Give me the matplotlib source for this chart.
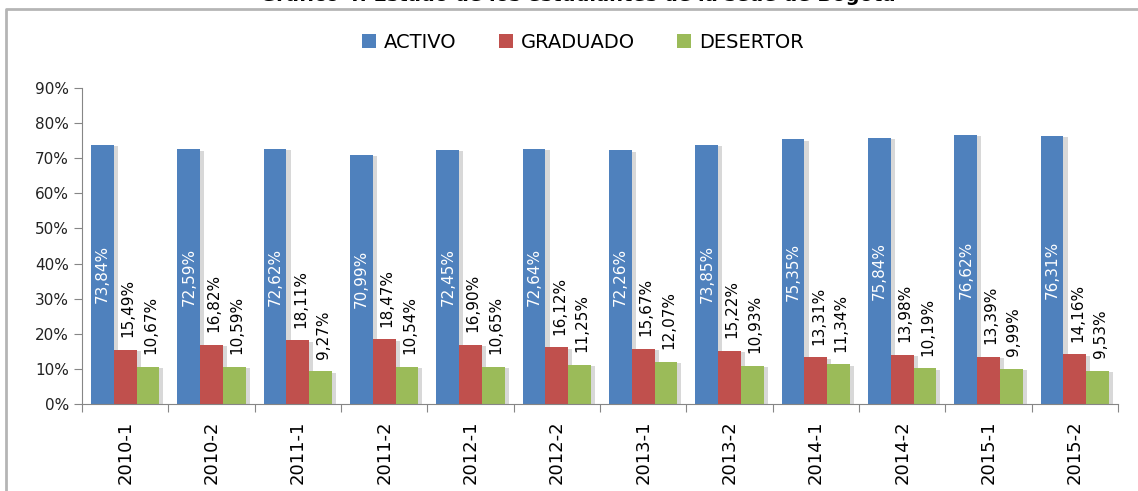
import matplotlib

matplotlib.use("Agg")
import matplotlib.pyplot as plt
import matplotlib.patheffects as pe
import numpy as np
from matplotlib.lines import Line2D
from matplotlib.patches import Patch

periods = ["2010-1", "2010-2", "2011-1", "2011-2", "2012-1", "2012-2",
           "2013-1", "2013-2", "2014-1", "2014-2", "2015-1", "2015-2"]
activo = [73.84, 72.59, 72.62, 70.99, 72.45, 72.64, 72.26, 73.85, 75.35, 75.84, 76.62, 76.31]
graduado = [15.49, 16.82, 18.11, 18.47, 16.90, 16.12, 15.67, 15.22, 13.31, 13.98, 13.39, 14.16]
desertor = [10.67, 10.59, 9.27, 10.54, 10.65, 11.25, 12.07, 10.93, 11.34, 10.19, 9.99, 9.53]
series_names = ["ACTIVO", "GRADUADO", "DESERTOR"]
colors = ["#4F81BD", "#C0504D", "#9BBB59"]


def fmt(v):
    return f"{v:.2f}".replace(".", ",") + "%"


fig = plt.figure(figsize=(11.38, 4.91), dpi=100)
ax = fig.add_axes([82 / 1138, 1 - 404 / 491, (1118 - 82) / 1138, (404 - 88) / 491])

x = np.arange(len(periods))
w = 0.263
shadow = [pe.SimplePatchShadow(offset=(3, -1), shadow_rgbFace="#808080", alpha=0.3), pe.Normal()]
for i, (vals, col) in enumerate(zip([activo, graduado, desertor], colors)):
    bars = ax.bar(x + (i - 1) * w, vals, w, color=col, zorder=2)
    for b in bars:
        b.set_path_effects(shadow)
    for xi, v in zip(x, vals):
        xc = xi + (i - 1) * w
        if i == 0:
            ax.text(xc, v / 2, fmt(v), rotation=90, ha="center", va="center",
                    color="white", fontsize=11, zorder=3)
        else:
            ax.annotate(fmt(v), (xc + 0.03, v), xytext=(0, 9), textcoords="offset points",
                        rotation=90, ha="center", va="bottom", color="black", fontsize=11)

ax.set_xlim(-0.5, len(periods) - 0.5)
ax.set_ylim(0, 90)
ax.set_yticks(range(0, 91, 10))
ax.set_yticklabels([f"{t}%" for t in range(0, 91, 10)], fontsize=11)
ax.set_xticks(np.arange(-0.5, len(periods), 1))
ax.set_xticklabels([])
ax.set_xticks(x, minor=True)
ax.set_xticklabels(periods, minor=True, rotation=90, fontsize=13)
ax.tick_params(axis="x", which="major", length=6, color="#868686")
ax.tick_params(axis="x", which="minor", length=0, pad=12)
ax.tick_params(axis="y", length=6, color="#868686", colors="#222222")
for s in ["top", "right"]:
    ax.spines[s].set_visible(False)
for s in ["left", "bottom"]:
    ax.spines[s].set_color("#868686")

handles = [Patch(facecolor=c, label=n) for c, n in zip(colors, series_names)]
fig.legend(handles=handles, loc="center", bbox_to_anchor=(583 / 1138, 1 - 42 / 491), ncol=3,
           frameon=False, fontsize=14, handlelength=0.7, handleheight=0.7,
           handletextpad=0.4, columnspacing=2.2)

fig.text(578 / 1138, 1 - 1 / 491, "Gráfico 4. Estado de los estudiantes de la sede de Bogotá",
         ha="center", va="baseline", fontsize=14, fontweight="bold")

fig.add_artist(Line2D([6 / 1138, 6 / 1138, 1], [0, 1 - 9 / 491, 1 - 9 / 491],
                      transform=fig.transFigure, color="#b5b5b5", lw=2))

fig.savefig("out.png", dpi=100)
